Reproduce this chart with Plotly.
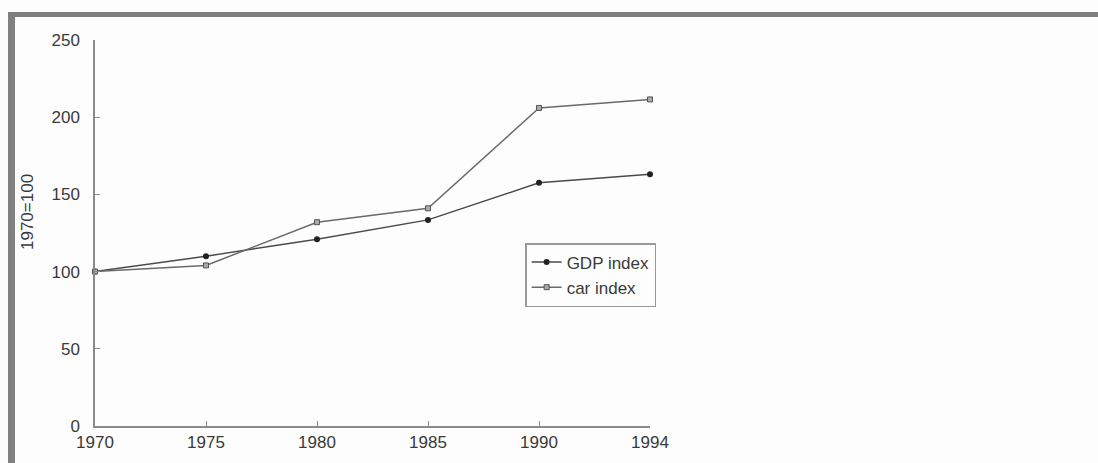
import plotly.graph_objects as go

years = ["1970", "1975", "1980", "1985", "1990", "1994"]
gdp_index = [100, 110, 121, 133.5, 157.5, 163]
car_index = [100, 104, 132, 141, 206, 211.5]
y_ticks = [0, 50, 100, 150, 200, 250]

FONT = "Liberation Sans, Arial, Helvetica, sans-serif"
TXT = "#3a3a3a"

fig = go.Figure()
fig.add_trace(go.Scatter(
    x=years, y=gdp_index, name="GDP index", mode="lines+markers",
    line=dict(color="#4a4a4a", width=1.5),
    marker=dict(symbol="circle", size=6, color="#222"),
    cliponaxis=False,
))
fig.add_trace(go.Scatter(
    x=years, y=car_index, name="car index", mode="lines+markers",
    line=dict(color="#6a6a6a", width=1.5),
    marker=dict(symbol="square", size=5, color="#aaa", line=dict(color="#555", width=1)),
    cliponaxis=False,
))

fig.update_layout(
    width=1098, height=463,
    margin=dict(l=95, r=448, t=40, b=37),
    paper_bgcolor="#fdfdfd", plot_bgcolor="#fdfdfd",
    font=dict(family=FONT, size=17, color=TXT),
    showlegend=True,
    legend=dict(
        x=0.775, y=0.474, xanchor="left", yanchor="top",
        bordercolor="#999", borderwidth=1.5, bgcolor="rgba(0,0,0,0)",
        font=dict(size=17, color=TXT), itemwidth=30, tracegroupgap=0,
    ),
    xaxis=dict(
        type="category", range=[0, 5], showgrid=False, zeroline=False,
        showline=True, linecolor="#8a8a8a", linewidth=1.5,
        ticks="inside", ticklen=5, tickcolor="#8a8a8a", tickwidth=1,
        tickfont=dict(size=17, color=TXT),
    ),
    yaxis=dict(
        range=[0, 250], tickvals=y_ticks, showgrid=False, zeroline=False,
        showline=True, linecolor="#8a8a8a", linewidth=1.5,
        ticks="inside", ticklen=5, tickcolor="#8a8a8a", tickwidth=1,
        tickfont=dict(size=17, color=TXT), ticklabelstandoff=10,
    ),
    shapes=[
        dict(type="rect", xref="paper", yref="paper",
             x0=(8 - 95) / 555, x1=(1098 - 95) / 555,
             y0=1 + 23 / 386, y1=1 + 28 / 386,
             fillcolor="#808080", line=dict(width=0), layer="above"),
        dict(type="rect", xref="paper", yref="paper",
             x0=(8 - 95) / 555, x1=(15 - 95) / 555,
             y0=(426 - 470) / 386, y1=1 + 28 / 386,
             fillcolor="#808080", line=dict(width=0), layer="above"),
    ],
    annotations=[
        dict(text="1970=100", xref="paper", yref="paper",
             x=(27 - 95) / 555, y=(426 - 212) / 386, textangle=-90,
             showarrow=False, font=dict(size=17, color=TXT),
             xanchor="center", yanchor="middle"),
    ],
)

fig.write_html(
    "out.html",
    config={"displayModeBar": False},
    post_script="document.body.style.margin='0';document.body.style.overflow='hidden';",
)
